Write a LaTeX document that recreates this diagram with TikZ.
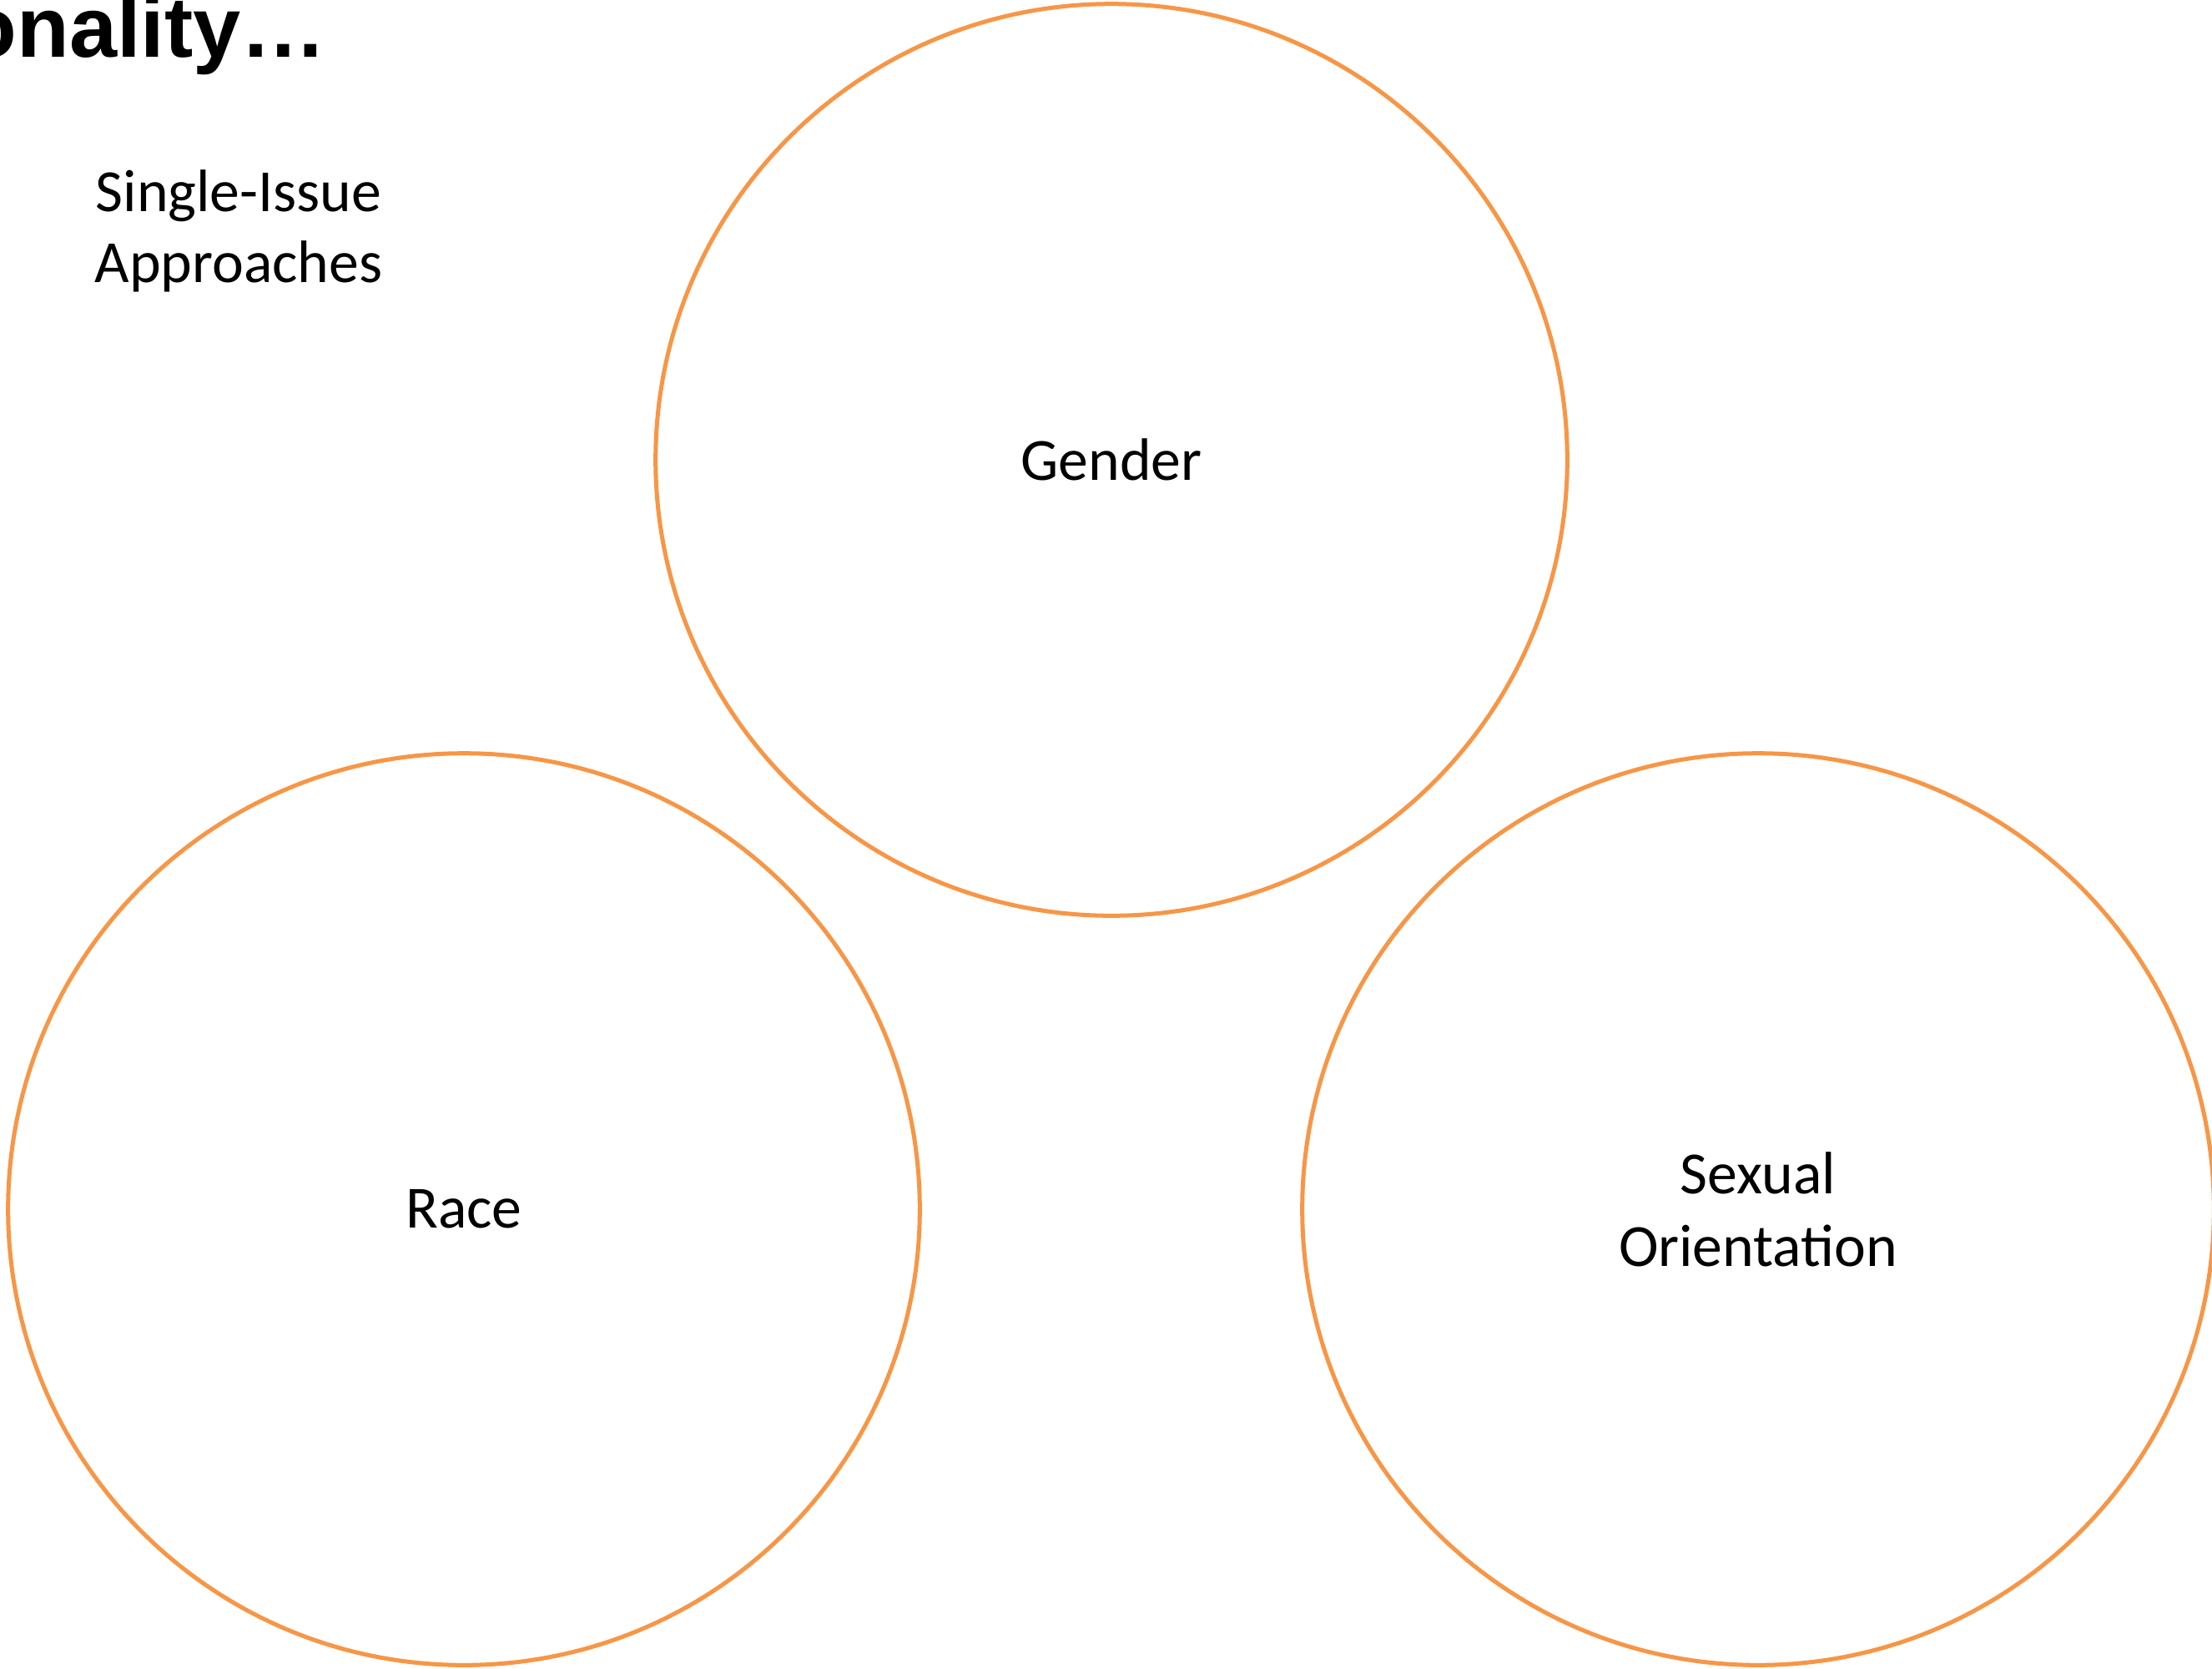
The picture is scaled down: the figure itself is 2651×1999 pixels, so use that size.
\documentclass[tikz,border=0pt]{standalone}
\usepackage{fontspec}
\setmainfont{Carlito}
\newfontfamily\titlefont{Liberation Sans}
\definecolor{ringorange}{HTML}{F79646}
\begin{document}
\begin{tikzpicture}[x=0.01cm,y=-0.01cm,
  ring/.style={circle,draw=ringorange,line width=0.05cm,minimum size=10.92cm,inner sep=0pt,align=center,
    font=\fontsize{20.4pt}{24.7pt}\selectfont},
  label/.style={align=center,font=\fontsize{20.4pt}{24.3pt}\selectfont}]
\useasboundingbox (0,0) rectangle (2651,1999);
\fill[white] (0,0) rectangle (2651,1999);
\node[anchor=base east,inner sep=0pt,font=\titlefont\bfseries\fontsize{29.2pt}{34pt}\selectfont] (title) at (392,68) {onality…};
\node[label] (single) at (286,277) {Single-Issue\\Approaches};
\node[ring] (gender) at (1332,551) {Gender};
\node[ring] (race) at (556,1449) {Race};
\node[ring] (sexual) at (2107,1449) {Sexual\\Orientation};
\end{tikzpicture}
\end{document}
